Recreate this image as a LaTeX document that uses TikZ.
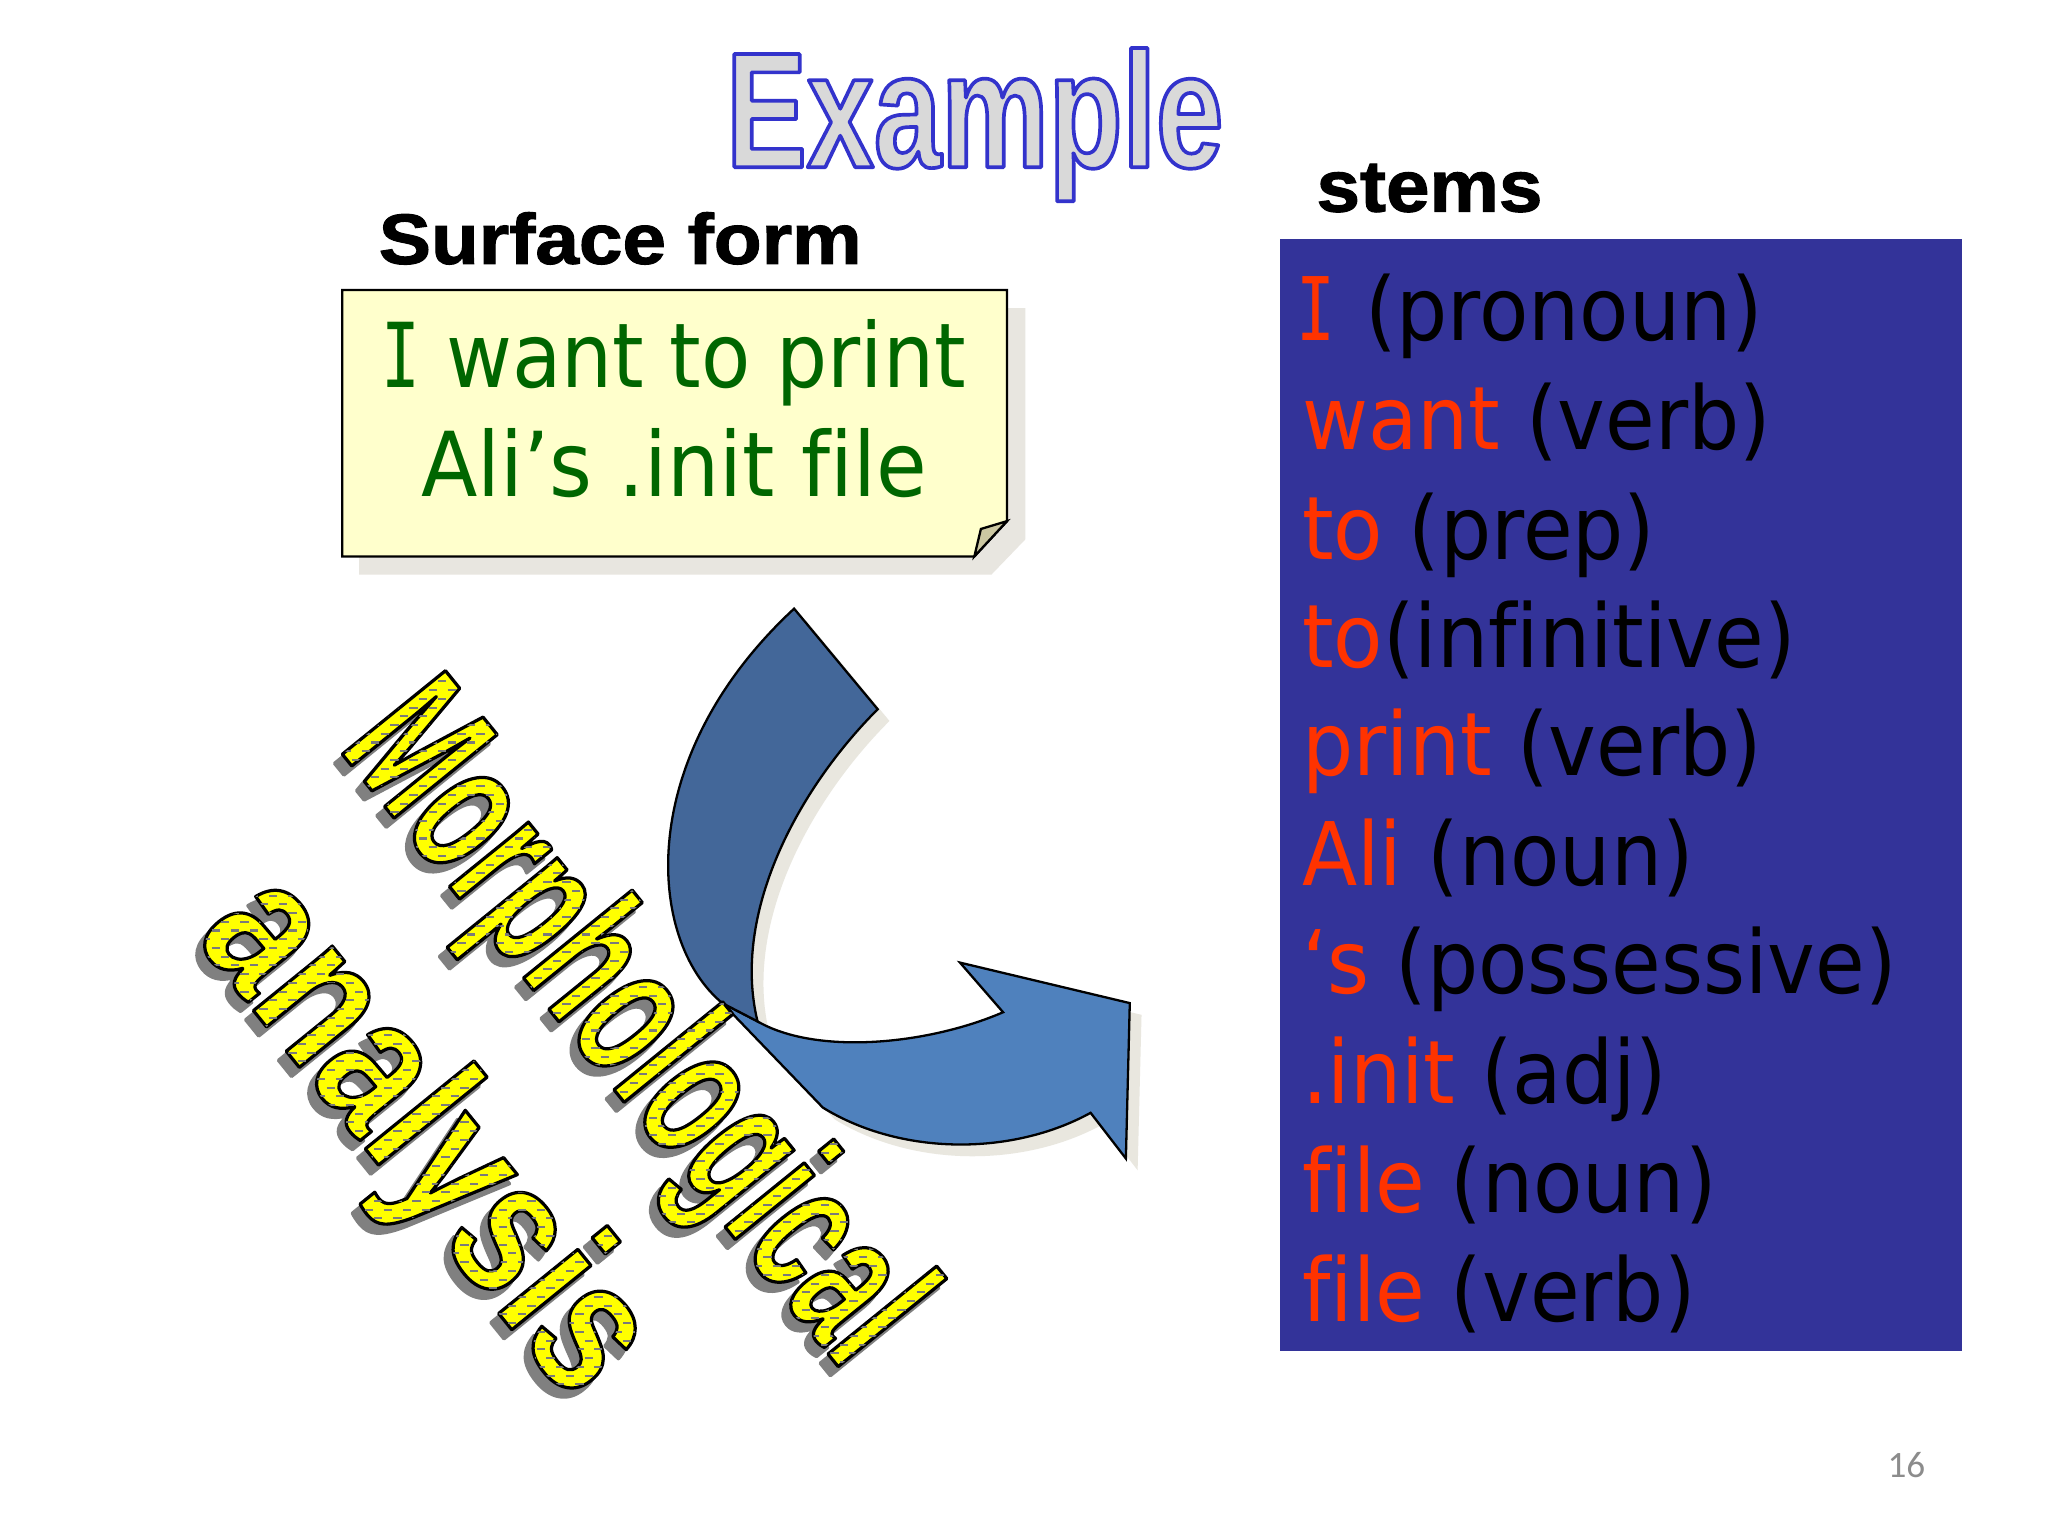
\documentclass[tikz,border=0pt]{standalone}
\usepackage{fontspec}
\usepackage{graphicx}
\setmainfont{DejaVu Sans}[Ligatures=NoCommon]
\newfontfamily\headfont{Liberation Sans}[BoldFeatures={FakeBold=1.5}]
\newfontfamily\titlefont{Liberation Sans}[FakeStretch=0.735]
\newfontfamily\morphfont{Liberation Sans}[FakeStretch=0.61]
\newfontfamily\analfont{Liberation Sans}[FakeStretch=0.79]
\newfontfamily\monoserif{DejaVu Sans Mono}
\newfontfamily\carlito{Carlito}
\definecolor{titlegray}{HTML}{D9D9D9}
\definecolor{noteyellow}{HTML}{FFFFCC}
\definecolor{notegreen}{HTML}{006600}
\definecolor{flapcol}{HTML}{CCC8A2}
\definecolor{notesh}{HTML}{E8E6E0}
\definecolor{stemsblue}{HTML}{333399}
\definecolor{stemred}{HTML}{FF3300}
\definecolor{arrowdark}{HTML}{436799}
\definecolor{arrowlight}{HTML}{4F81BD}
\definecolor{arrowsh}{HTML}{E9E7DF}
\definecolor{wyellow}{HTML}{FFFF00}
\definecolor{wshadow}{HTML}{808080}
\definecolor{dashgray}{HTML}{7A7A7A}
\definecolor{pagegray}{HTML}{8C8C8C}
% text drawn with a given rendering mode: #1 stroke rgb, #2 line width (bp), #3 mode, #4 text
\newcommand\trtext[4]{\special{pdf:literal direct #1 RG #2 w 1 j #3 Tr}#4\special{pdf:literal direct 0 Tr}}
\newcommand\serifI{{\monoserif\kern-0.07em\scalebox{0.8}[1]{I}}}
\newcommand\stemfont{\fontsize{19.1}{20}\selectfont}
\newsavebox\wabox
\newsavebox\patbox
\newcommand\dashrow{\hbox to 200pt{\xleaders\hbox to 4.1pt{\hss\rule{1.8pt}{0.45pt}\hss}\hfil}}
\newcommand\makepattern{\sbox\patbox{\rotatebox[origin=c]{51}{\color{dashgray}\vbox{\offinterlineskip
  \hbox to 200pt{}\cleaders\vbox{\dashrow\kern1.45pt\hbox{\kern2.05pt\dashrow}\kern1.45pt}\vskip 200pt}}}}
% letters filled yellow, outlined black, and used as clip for the dash texture
\newcommand\wafill[1]{\sbox\wabox{#1}%
  \rlap{\color{wyellow}\trtext{0 0 0}{0.7}{6}{#1}}%
  \rlap{\smash{\kern\dimexpr0.5\wd\wabox-0.5\wd\patbox\relax
    \raisebox{\dimexpr0.5\ht\wabox-0.5\dp\wabox-0.5\ht\patbox+0.5\dp\patbox\relax}{\usebox\patbox}}}%
  \phantom{#1}}
\begin{document}
\makepattern
\begin{tikzpicture}[x=0.01cm,y=-0.01cm,
  txt/.style={inner sep=0pt, outer sep=0pt},
  stemline/.style={txt, anchor=base west},
  noteline/.style={txt, anchor=base, text=notegreen},
  wordart/.style={txt, rotate=-51, anchor=base},
  outl/.style={draw=black, line width=0.5pt}]
\useasboundingbox (0,0) rectangle (1568,1176);
\fill[white] (0,0) rectangle (1568,1176);

% note box
\fill[notesh] (275,236) -- (785,236) -- (785,413) -- (759,440) -- (275,440) -- cycle;
\filldraw[fill=noteyellow, outl] (262,222) -- (771,222) -- (771,399) -- (746,426) -- (262,426) -- cycle;
\filldraw[fill=flapcol, outl] (771,399) -- (751,405) -- (746,426) -- cycle;

% stems box
\fill[stemsblue] (980,183) rectangle (1502,1034);

% curved arrow: shadow
\begin{scope}[shift={(9,9)}]
\fill[arrowsh] (553,768) -- (630,848) .. controls (690,885) and (775,885) .. (835,852)
  -- (862,887) -- (865,768) -- (735,737) -- (768,775)
  .. controls (710,800) and (625,808) .. (580,782) -- cycle;
\fill[arrowsh] (608,466) -- (672,543) .. controls (610,605) and (560,700) .. (580,782)
  -- (553,768) .. controls (495,720) and (485,580) .. (608,466) -- cycle;
\end{scope}
% light front part
\filldraw[fill=arrowlight, outl] (553,768) -- (630,848) .. controls (690,885) and (775,885) .. (835,852)
  -- (862,887) -- (865,768) -- (735,737) -- (768,775)
  .. controls (710,800) and (625,808) .. (580,782) -- cycle;
% dark back part
\filldraw[fill=arrowdark, outl] (608,466) -- (672,543) .. controls (610,605) and (560,700) .. (580,782)
  -- (553,768) .. controls (495,720) and (485,580) .. (608,466) -- cycle;

% title
\node[txt, anchor=base west] (title) at (556,128)
  {\fontsize{35.8}{36}\titlefont\bfseries\color{titlegray}\trtext{0.2 0.2 0.8}{0.8}{2}{Example}};

% headings
\node[txt, anchor=base west] (surface) at (290,202)
  {\scalebox{1.1}[1]{\fontsize{15.5}{16}\headfont\bfseries Surface form}};
\node[txt, anchor=base west] (stemslabel) at (1008,162)
  {\scalebox{1.07}[1]{\fontsize{15.9}{16}\headfont\bfseries stems}};

% note text
\node[noteline] (n1) at (518,297) {\scalebox{0.9}[1]{\fontsize{19.5}{20}\selectfont\serifI{} want to print}};
\node[noteline] (n2) at (516,380) {\scalebox{0.92}[1]{\fontsize{19.5}{20}\selectfont Ali’s .init file}};

% stems text
\node[stemline] (s1) at (997,261) {\scalebox{0.92}[1]{\stemfont\textcolor{stemred}{\serifI}\kern0.05em{} (pronoun)}};
\node[stemline] (s2) at (997,344) {\scalebox{0.92}[1]{\stemfont\textcolor{stemred}{want} (verb)}};
\node[stemline] (s3) at (997,428) {\scalebox{0.92}[1]{\stemfont\textcolor{stemred}{to} (prep)}};
\node[stemline] (s4) at (997,511) {\scalebox{0.92}[1]{\stemfont\textcolor{stemred}{to}(infinitive)}};
\node[stemline] (s5) at (997,594) {\scalebox{0.92}[1]{\stemfont\textcolor{stemred}{print} (verb)}};
\node[stemline] (s6) at (997,678) {\scalebox{0.92}[1]{\stemfont\textcolor{stemred}{Ali} (noun)}};
\node[stemline] (s7) at (997,761) {\scalebox{0.92}[1]{\stemfont\textcolor{stemred}{‘s} (possessive)}};
\node[stemline] (s8) at (997,845) {\scalebox{0.92}[1]{\stemfont\textcolor{stemred}{.init} (adj)}};
\node[stemline] (s9) at (997,928) {\scalebox{0.92}[1]{\stemfont\textcolor{stemred}{file} (noun)}};
\node[stemline] (s10) at (997,1012) {\scalebox{0.92}[1]{\stemfont\textcolor{stemred}{file} (verb)}};

% page number
\node[txt, anchor=base east, text=pagegray] (page) at (1474,1131) {\fontsize{8.1}{9}\carlito 16};

% word art: shadows
\node[wordart] (morphsh) at (446,819)
  {\fontsize{42}{42}\morphfont\bfseries\color{wshadow}\trtext{0.5 0.5 0.5}{0.7}{2}{Morphological}};
\node[wordart] (analsh) at (287,903)
  {\fontsize{42}{42}\analfont\bfseries\color{wshadow}\trtext{0.5 0.5 0.5}{0.7}{2}{analysis}};
% word art: yellow textured letters with black outline
\node[wordart] (morph) at (452,812) {\fontsize{42}{42}\morphfont\bfseries\wafill{Morphological}};
\node[wordart] (anal) at (293,896) {\fontsize{42}{42}\analfont\bfseries\wafill{analysis}};
\end{tikzpicture}
\end{document}
